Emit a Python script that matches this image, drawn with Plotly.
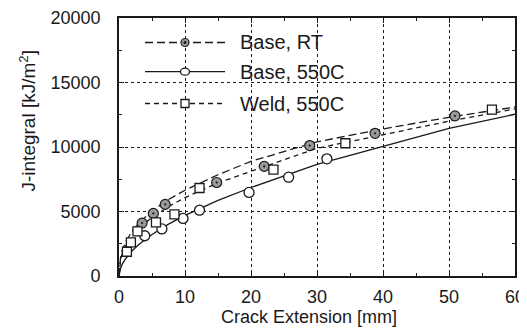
import plotly.graph_objects as go

# ---- data ----
rt_x = [3.5, 5.2, 7.0, 14.8, 22.0, 28.9, 38.8, 50.9]
rt_y = [4100, 4850, 5550, 7250, 8500, 10110, 11060, 12410]

b550_x = [3.9, 6.5, 9.7, 12.2, 19.7, 25.7, 31.5]
b550_y = [3120, 3650, 4460, 5100, 6480, 7660, 9080]

weld_x = [1.2, 1.8, 2.8, 5.6, 8.4, 12.2, 23.4, 34.3, 56.5]
weld_y = [1880, 2600, 3460, 4160, 4780, 6820, 8250, 10290, 12900]

# fitted curves
fit_x = [0, 0.25, 0.5, 1, 2, 3, 5, 7.5, 10, 15, 20, 30, 40, 50, 60]
rt_fit = [0, 1520, 2005, 2650, 3490, 4110, 5040, 5930, 6650, 7850, 8890, 10400, 11400, 12300, 13100]
b550_fit = [0, 630, 918, 1340, 1955, 2440, 3220, 4020, 4700, 5860, 6860, 8650, 10040, 11440, 12540]
weld_fit = [0, 1290, 1730, 2310, 3090, 3665, 4540, 5385, 6080, 7210, 8120, 9900, 10950, 12000, 12950]

legend_names = ["Base, RT", "Base, 550C", "Weld, 550C"]
x_ticks = [0, 10, 20, 30, 40, 50, 60]
y_ticks = [0, 5000, 10000, 15000, 20000]

INK = "#1a1a1a"
GREY = "#9a9a9a"
FONT = "Liberation Sans, Arial, sans-serif"

OFF = 8
W, H = 527 - OFF, 334 - OFF
PL, PR, PT, PB = 119, 515, 18, 276          # plot area in page pixels
ML, MT = PL - OFF, PT - OFF
MR, MB = W - (PR - OFF), H - (PB - OFF)
PW, PH = PR - PL, PB - PT

fig = go.Figure()

# curves
fig.add_trace(go.Scatter(x=fit_x, y=rt_fit, mode="lines", line=dict(color=INK, width=1.3, dash="8px,4px"),
                         showlegend=False, hoverinfo="skip"))
fig.add_trace(go.Scatter(x=fit_x, y=b550_fit, mode="lines", line=dict(color=INK, width=1.3),
                         showlegend=False, hoverinfo="skip"))
fig.add_trace(go.Scatter(x=fit_x, y=weld_fit, mode="lines", line=dict(color=INK, width=1.3, dash="5px,4px"),
                         showlegend=False, hoverinfo="skip"))

# markers
fig.add_trace(go.Scatter(x=rt_x, y=rt_y, mode="markers", name=legend_names[0], showlegend=False,
                         marker=dict(symbol="circle-dot", size=10, color=GREY, line=dict(color=INK, width=1.2))))
fig.add_trace(go.Scatter(x=b550_x, y=b550_y, mode="markers", name=legend_names[1], showlegend=False,
                         marker=dict(symbol="circle", size=10, color="white", line=dict(color=INK, width=1.3))))
fig.add_trace(go.Scatter(x=weld_x, y=weld_y, mode="markers", name=legend_names[2], showlegend=False,
                         marker=dict(symbol="square", size=9, color="white", line=dict(color=INK, width=1.3))))

# ---- custom legend (layout decorations in paper coordinates, page-pixel based) ----
def px_x(p):
    return (p - PL) / PW


def px_y(p):
    return (PB - p) / PH


shapes = []
shapes.append(dict(type="rect", xref="paper", yref="paper", x0=0.0, x1=px_x(358), y0=px_y(118), y1=1.0,
                   fillcolor="white", line=dict(width=0), layer="between"))
leg_y = [px_y(42.5), px_y(71.7), px_y(103.5)]
leg_dash = ["8px,4px", "solid", "5px,4px"]
lx0, lx1, lxm = px_x(145), px_x(225), px_x(185)
for yy, dd in zip(leg_y, leg_dash):
    shapes.append(dict(type="line", xref="paper", yref="paper", x0=lx0, x1=lx1, y0=yy, y1=yy,
                       line=dict(color=INK, width=1.3, dash=dd), layer="above"))
shapes.append(dict(type="circle", xref="paper", yref="paper", xsizemode="pixel", ysizemode="pixel",
                   xanchor=lxm, yanchor=leg_y[0], x0=-4, x1=4, y0=-4, y1=4,
                   fillcolor=GREY, line=dict(color=INK, width=1.2), layer="above"))
shapes.append(dict(type="circle", xref="paper", yref="paper", xsizemode="pixel", ysizemode="pixel",
                   xanchor=lxm, yanchor=leg_y[0], x0=-1.3, x1=1.3, y0=-1.3, y1=1.3,
                   fillcolor=INK, line=dict(color=INK, width=0.5), layer="above"))
shapes.append(dict(type="circle", xref="paper", yref="paper", xsizemode="pixel", ysizemode="pixel",
                   xanchor=lxm, yanchor=leg_y[1], x0=-4.5, x1=4.5, y0=-3.5, y1=3.5,
                   fillcolor="white", line=dict(color=INK, width=1.3), layer="above"))
shapes.append(dict(type="rect", xref="paper", yref="paper", xsizemode="pixel", ysizemode="pixel",
                   xanchor=lxm, yanchor=leg_y[2], x0=-4, x1=4, y0=-4, y1=4,
                   fillcolor="white", line=dict(color=INK, width=1.3), layer="above"))

annotations = []
for yy, nm in zip(leg_y, legend_names):
    annotations.append(dict(text=nm, xref="paper", yref="paper", x=px_x(238), y=yy, xanchor="left",
                            yanchor="middle", showarrow=False, font=dict(family=FONT, size=20, color=INK)))
# axis titles
annotations.append(dict(text="Crack Extension [mm]", xref="paper", yref="paper",
                        x=px_x(309), y=px_y(317), xanchor="center", yanchor="middle",
                        showarrow=False, font=dict(family=FONT, size=18, color=INK)))
annotations.append(dict(text="J-integral [kJ/m<sup>2</sup>]", xref="paper", yref="paper",
                        x=px_x(27.5), y=px_y(121), xanchor="center", yanchor="middle",
                        textangle=-90, showarrow=False, font=dict(family=FONT, size=19, color=INK)))

axis_common = dict(
    showline=True, linecolor=INK, linewidth=1.8, mirror="ticks",
    ticks="inside", ticklen=5, tickcolor=INK, tickwidth=1,
    showgrid=True, gridcolor=INK, gridwidth=1, griddash="dot",
    zeroline=False, tickfont=dict(family=FONT, size=18, color=INK),
    minor=dict(ticks="inside", ticklen=3, tickcolor=INK, showgrid=False),
    automargin=False, ticklabeloverflow="allow",
)

fig.update_xaxes(range=[0, 60], tickvals=x_ticks, ticktext=[str(v) for v in x_ticks],
                 minor_dtick=5, minor_tick0=0, ticklabelstandoff=3, **axis_common)
fig.update_yaxes(range=[0, 20000], tickvals=y_ticks, ticktext=[str(v) for v in y_ticks],
                 minor_dtick=2500, minor_tick0=0, ticklabelstandoff=13, **axis_common)

fig.update_layout(
    width=W, height=H,
    margin=dict(l=ML, r=MR, t=MT, b=MB, autoexpand=False),
    paper_bgcolor="white", plot_bgcolor="white",
    showlegend=False,
    shapes=shapes, annotations=annotations,
    font=dict(family=FONT, color=INK),
)

fig.write_html("out.html")
